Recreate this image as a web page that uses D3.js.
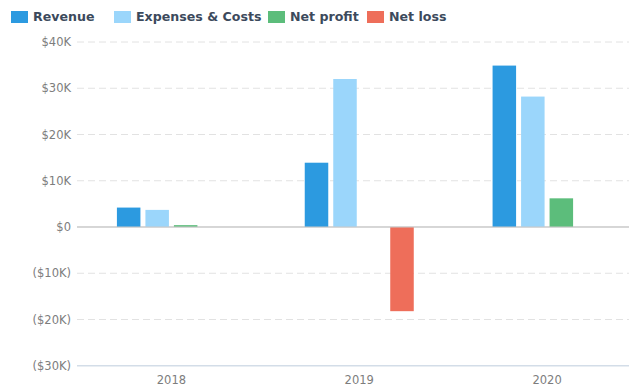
<!DOCTYPE html>
<html>
<head>
<meta charset="utf-8">
<script src="https://cdn.jsdelivr.net/npm/d3@7"></script>
<style>
  html, body { margin: 0; padding: 0; background: #fff; }
  svg { display: block; font-family: "DejaVu Sans", sans-serif; }
</style>
</head>
<body>
<svg id="chart" width="630" height="390"></svg>
<script>
// Yearly figures
const years = ["2018", "2019", "2020"];
const revenue = [4200, 13900, 34900];
const expenses = [3700, 32000, 28200];
const netProfit = [400, null, 6200];
const netLoss = [null, -18200, null];
const yTicks = [40000, 30000, 20000, 10000, 0, -10000, -20000, -30000];

const seriesNames = ["Revenue", "Expenses & Costs", "Net profit", "Net loss"];
const seriesColors = ["#2c9ae0", "#9bd6fb", "#5cbd7b", "#ee6e5a"];
const seriesValues = [revenue, expenses, netProfit, netLoss];

const svg = d3.select("#chart");
const plotLeft = 77, plotRight = 629;

const y = d3.scaleLinear().domain([-30000, 40000]).range([365.75, 42]);
const x = d3.scaleBand().domain(years).range([77.5, 641]).padding(0);
const xs = d3.scaleBand().domain(seriesNames).range([-57, 57])
  .paddingInner(0.175).paddingOuter(0.0875);

const fmt = v => {
  if (v === 0) return "$0";
  const s = "$" + Math.abs(v / 1000) + "K";
  return v < 0 ? "(" + s + ")" : s;
};

// Horizontal grid
const grid = svg.append("g");
grid.selectAll("line")
  .data(yTicks)
  .join("line")
  .attr("x1", plotLeft).attr("x2", plotRight)
  .attr("y1", d => y(d)).attr("y2", d => y(d))
  .attr("stroke", d => d === 0 ? "#c9c9c9" : (d === -30000 ? "#d3dde8" : "#e2e2e2"))
  .attr("stroke-width", d => d === -30000 ? 1.5 : 1)
  .attr("stroke-dasharray", d => (d === 0 || d === -30000) ? null : "7,4");

// Y axis labels
const yAxis = svg.append("g").attr("transform", "translate(71,0)")
  .call(d3.axisLeft(y).tickValues(yTicks).tickFormat(fmt).tickSize(0).tickPadding(0));
yAxis.select(".domain").remove();
yAxis.selectAll("text")
  .attr("font-family", "DejaVu Sans, sans-serif")
  .attr("font-size", "11.5px")
  .attr("fill", "#7d7d7d");

// Bars
const rows = [];
years.forEach((yr, i) => {
  seriesNames.forEach((name, j) => {
    const v = seriesValues[j][i];
    if (v !== null) rows.push({ yr, name, v, color: seriesColors[j] });
  });
});
svg.append("g").selectAll("rect")
  .data(rows)
  .join("rect")
  .attr("x", d => x(d.yr) + x.bandwidth() / 2 + xs(d.name))
  .attr("width", xs.bandwidth())
  .attr("y", d => y(Math.max(0, d.v)))
  .attr("height", d => Math.abs(y(d.v) - y(0)))
  .attr("fill", d => d.color);

// Zero line on top of bars
svg.append("line")
  .attr("x1", plotLeft).attr("x2", plotRight)
  .attr("y1", y(0)).attr("y2", y(0))
  .attr("stroke", "#c9c9c9");

// X axis labels
const xAxis = svg.append("g").attr("transform", "translate(0,376)")
  .call(d3.axisBottom(x).tickSize(0).tickPadding(0));
xAxis.select(".domain").remove();
xAxis.selectAll("text")
  .attr("font-family", "DejaVu Sans, sans-serif")
  .attr("font-size", "11.5px")
  .attr("fill", "#7d7d7d");

// Legend
const legendX = [11, 114, 268, 367];
const legend = svg.append("g");
seriesNames.forEach((name, j) => {
  const g = legend.append("g").attr("transform", `translate(${legendX[j]},0)`);
  g.append("rect").attr("x", 0).attr("y", 11).attr("width", 17).attr("height", 12)
    .attr("fill", seriesColors[j]);
  g.append("text").attr("x", 22).attr("y", 21)
    .attr("font-family", "DejaVu Sans, sans-serif")
    .attr("font-weight", "bold")
    .attr("font-size", "12.6px")
    .attr("fill", "#3c4a5c")
    .text(name);
});
</script>
</body>
</html>
